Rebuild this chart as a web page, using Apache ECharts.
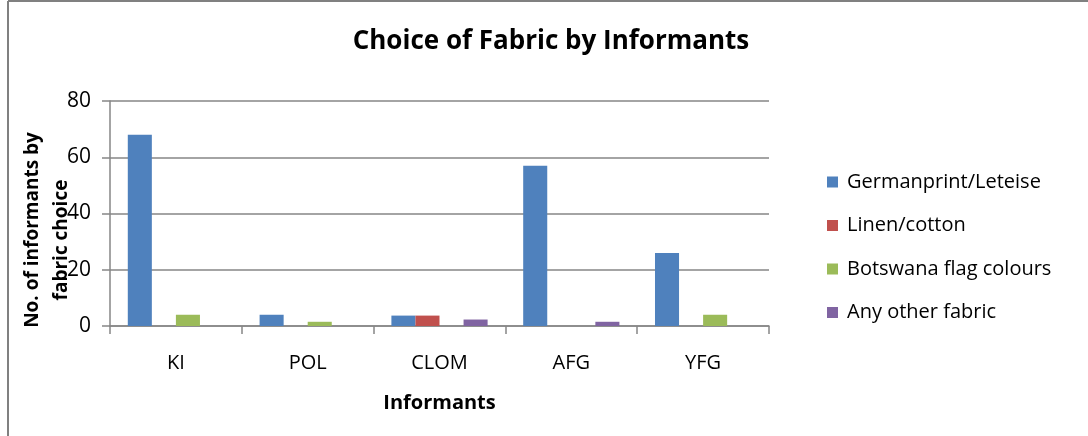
<!DOCTYPE html>
<html>
<head>
<meta charset="utf-8">
<script src="https://cdn.jsdelivr.net/npm/echarts@6/dist/echarts.min.js"></script>
<style>
html,body{margin:0;padding:0;background:#fff;}
#chart{width:1088px;height:436px;}
</style>
</head>
<body>
<div id="chart"></div>
<script>
var categories = ['KI', 'POL', 'CLOM', 'AFG', 'YFG'];
var seriesNames = ['Germanprint/Leteise', 'Linen/cotton', 'Botswana flag colours', 'Any other fabric'];
var germanprint = [68, 4, 3.7, 57, 26];
var linenCotton = [0, 0, 3.7, 0, 0];
var botswanaFlag = [4, 1.5, 0, 0, 4];
var anyOther = [0, 0, 2.3, 1.5, 0];
var yTicks = [0, 20, 40, 60, 80];

var colors = ['#4F81BD', '#C0504D', '#9BBB59', '#8064A2'];
var FONT = 'Open Sans';
var chart = echarts.init(document.getElementById('chart'), null, {renderer: 'canvas'});

var allValues = [germanprint, linenCotton, botswanaFlag, anyOther];
var series = seriesNames.map(function (name, i) {
  return {
    name: name,
    type: 'bar',
    data: allValues[i],
    barGap: '0%',
    barCategoryGap: '27%',
    itemStyle: {color: colors[i]}
  };
});

chart.setOption({
  animation: false,
  backgroundColor: '#fff',
  color: colors,
  title: {
    text: 'Choice of Fabric by Informants',
    left: 546,
    top: 24,
    textAlign: 'center',
    textStyle: {fontFamily: FONT, fontWeight: 'bold', fontSize: 26, color: '#000'}
  },
  legend: {
    orient: 'vertical',
    left: 822,
    top: 167,
    itemWidth: 11,
    itemHeight: 11,
    itemGap: 23.5,
    icon: 'rect',
    textStyle: {fontFamily: FONT, fontSize: 20, color: '#000', padding: [0, 0, 0, 4]},
    data: seriesNames
  },
  grid: {left: 110, right: 319, top: 101, bottom: 110, containLabel: false},
  xAxis: {
    type: 'category',
    data: categories,
    name: 'Informants',
    nameLocation: 'middle',
    nameGap: 67,
    nameTextStyle: {fontFamily: FONT, fontWeight: 'bold', fontSize: 20, color: '#000'},
    axisLine: {show: true, lineStyle: {color: '#868686', width: 1.5}},
    axisTick: {show: true, length: 8, lineStyle: {color: '#868686', width: 1.5}},
    axisLabel: {fontFamily: FONT, fontSize: 20, color: '#000', margin: 27}
  },
  yAxis: {
    type: 'value',
    min: yTicks[0],
    max: yTicks[yTicks.length - 1],
    interval: 20,
    axisLine: {show: true, lineStyle: {color: '#868686', width: 1.5}},
    axisTick: {show: true, length: 8, lineStyle: {color: '#868686', width: 1.5}},
    axisLabel: {fontFamily: FONT, fontSize: 21, color: '#000', margin: 19},
    splitLine: {show: true, lineStyle: {color: '#868686', width: 1.5}}
  },
  graphic: [
    {type: 'line', shape: {x1: 8, y1: 1, x2: 1088, y2: 1}, style: {stroke: '#808080', lineWidth: 2}},
    {type: 'line', shape: {x1: 8, y1: 1, x2: 8, y2: 436}, style: {stroke: '#808080', lineWidth: 2}},
    {type: 'text', x: 33, y: 230, rotation: Math.PI / 2,
      style: {text: 'No. of informants by', fontFamily: FONT, fontWeight: 'bold', fontSize: 19, fill: '#000', textAlign: 'center', textVerticalAlign: 'middle'}},
    {type: 'text', x: 62, y: 240, rotation: Math.PI / 2,
      style: {text: 'fabric choice', fontFamily: FONT, fontWeight: 'bold', fontSize: 19, fill: '#000', textAlign: 'center', textVerticalAlign: 'middle'}}
  ],
  series: series
});
</script>
</body>
</html>
